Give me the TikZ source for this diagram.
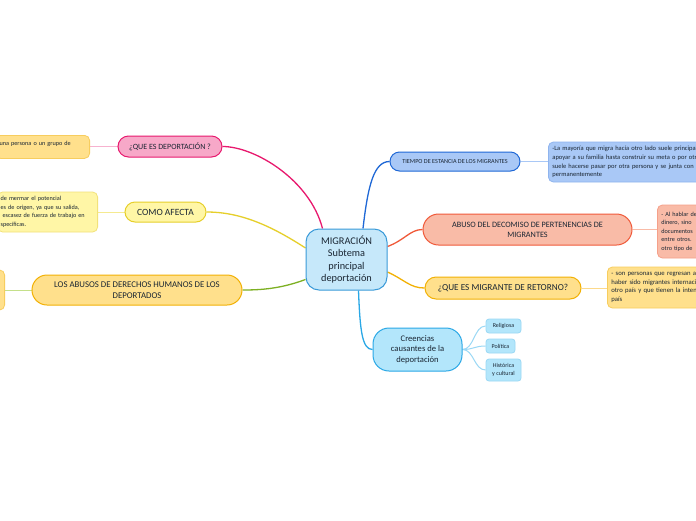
\documentclass[tikz,border=0pt]{standalone}
\usepackage{fontspec}
\setmainfont{Carlito}
\usetikzlibrary{backgrounds}
\definecolor{txt}{HTML}{1A2633}
\definecolor{pinkF}{HTML}{F7A8C8}\definecolor{pinkD}{HTML}{E8196E}\definecolor{pinkL}{HTML}{F7B2CF}
\definecolor{yelF}{HTML}{FFF6A6}\definecolor{yelD}{HTML}{E6CF2A}\definecolor{yelL}{HTML}{F5EA90}\definecolor{yelB}{HTML}{F2E27A}
\definecolor{orF}{HTML}{FFE08C}\definecolor{orD}{HTML}{F2B105}\definecolor{orL}{HTML}{FCD98A}\definecolor{orB}{HTML}{F7CD5E}
\definecolor{grD}{HTML}{7DB023}\definecolor{grL}{HTML}{C4E08A}
\definecolor{blF}{HTML}{A9C8F6}\definecolor{blD}{HTML}{1F68D6}\definecolor{blB}{HTML}{8FB4EE}
\definecolor{saF}{HTML}{F9BBA7}\definecolor{saD}{HTML}{F05A3A}\definecolor{saB}{HTML}{F5A08A}
\definecolor{cyF}{HTML}{B3E6FB}\definecolor{cyD}{HTML}{2AA8E6}\definecolor{cyL}{HTML}{9AD8F5}
\definecolor{ceF}{HTML}{C6E8FA}\definecolor{ceD}{HTML}{3A9AD8}
\tikzset{
  topic/.style={draw, line width=1pt, align=center, inner sep=0pt, text=txt},
  note/.style={draw, line width=0.8pt, rounded corners=5pt, align=left, inner xsep=4pt, inner ysep=0pt, text=txt,
     font=\fontsize{6.2}{8.5}\selectfont},
  mainline/.style={line width=1.3pt},
  subline/.style={line width=1pt},
}
\begin{document}
\begin{tikzpicture}[x=1pt,y=-1pt]
\useasboundingbox (0,0) rectangle (696,520);
\clip (0,0) rectangle (696,520);
% central
\node[topic, fill=ceF, draw=ceD, rounded corners=13pt, minimum width=81pt, minimum height=61pt,
  font=\fontsize{10.3}{12.5}\selectfont] (c) at (346.5,259.5) {MIGRACIÓN\\Subtema\\principal\\deportación};
% left side
\node[topic, fill=pinkF, draw=pinkD, rounded corners=10.5pt, minimum width=104pt, minimum height=21pt,
  font=\fontsize{8}{9}\selectfont] (dep) at (170,146.5) {¿QUE ES DEPORTACIÓN ?};
\node[note, fill=orF, draw=orB, anchor=north east, text width=86pt, minimum height=23pt, text height=4.5pt, text depth=7pt, inner ysep=5.75pt] (depbox) at (90,135) {una persona o un grupo de};
\node[topic, fill=yelF, draw=yelD, rounded corners=10pt, minimum width=81pt, minimum height=20pt,
  font=\fontsize{9.5}{10}\selectfont] (af) at (165.5,212) {COMO AFECTA};
\node[note, fill=yelF, draw=yelB, anchor=east, text width=94pt, minimum height=40pt, inner xsep=3pt] (afbox) at (98,212) {de mermar el potencial\\es de origen, ya que su salida,\\\hspace{2pt}escasez de fuerza de trabajo en\\specíficas.};
\node[topic, fill=orF, draw=orD, rounded corners=15pt, minimum width=210pt, minimum height=30pt,
  font=\fontsize{8.8}{10.5}\selectfont] (ab) at (137,290) {LOS ABUSOS DE DERECHOS HUMANOS DE LOS\\DEPORTADOS};
\node[note, fill=orF, draw=orB, anchor=east, minimum width=30pt, minimum height=40pt] (abbox) at (5,290) {};
% right side
\node[topic, fill=blF, draw=blD, rounded corners=9.5pt, minimum width=130pt, minimum height=19pt,
  font=\fontsize{6.2}{7}\selectfont] (ti) at (455,161.5) {TIEMPO DE ESTANCIA DE LOS MIGRANTES};
\node[note, fill=blF, draw=blB, anchor=west, text width=260pt, minimum height=40pt,
  font=\fontsize{6.5}{8.6}\selectfont] (tibox) at (548,162)
  {-La mayoría que migra hacía otro lado suele principalmente\\apoyar a su familia hasta construir su meta o por otro\\suele hacerse pasar por otra persona y se junta con\\permanentemente};
\node[topic, fill=saF, draw=saD, rounded corners=15.5pt, minimum width=209pt, minimum height=31pt,
  font=\fontsize{8.2}{10}\selectfont] (de) at (527.5,229.5) {ABUSO DEL DECOMISO DE PERTENENCIAS DE\\MIGRANTES};
\node[note, fill=saF, draw=saB, anchor=west, text width=80pt, minimum height=53pt] (debox) at (657,231.5)
  {- Al hablar de\\dinero, sino\\documentos\\entre otros.\\otro tipo de};
\node[topic, fill=orF, draw=orD, rounded corners=11pt, minimum width=156pt, minimum height=22pt,
  font=\fontsize{9.2}{10}\selectfont] (re) at (503,288) {¿QUE ES MIGRANTE DE RETORNO?};
\node[note, fill=orF, draw=orB, anchor=west, text width=140pt, minimum height=41pt,
  font=\fontsize{6.7}{8.5}\selectfont] (rebox) at (607,287.5)
  {- son personas que regresan a\\haber sido migrantes internacionales\\otro país y que tienen la intención\\país};
\node[topic, fill=cyF, draw=cyD, rounded corners=16pt, minimum width=89pt, minimum height=43pt,
  font=\fontsize{8.6}{10.5}\selectfont] (cr) at (417.5,349.5) {Creencias\\causantes de la\\deportación};
\node[topic, fill=cyF, draw=cyL, line width=0.8pt, rounded corners=3pt, minimum width=35pt, minimum height=14pt,
  font=\fontsize{6}{7.5}\selectfont] (rel) at (503.5,326) {Religiosa};
\node[topic, fill=cyF, draw=cyL, line width=0.8pt, rounded corners=3pt, minimum width=29pt, minimum height=14pt,
  font=\fontsize{6}{7.5}\selectfont] (pol) at (500.5,346) {Política};
\node[topic, fill=cyF, draw=cyL, line width=0.8pt, rounded corners=3pt, minimum width=35pt, minimum height=22pt,
  font=\fontsize{6}{8}\selectfont] (his) at (503.5,370) {Histórica\\y cultural};
% connectors
\begin{scope}[on background layer]
\fill[white] (0,0) rectangle (696,520);
\draw[mainline, pinkD] ([xshift=-24pt]c.north) .. controls (310,180) and (255,146.5) .. (dep.east);
\draw[mainline, yelD] ([yshift=11.5pt]c.west) .. controls (270,225) and (240,212) .. (af.east);
\draw[mainline, grD] ([yshift=-20pt]c.west) .. controls (280,289) and (260,290) .. (ab.east);
\draw[mainline, blD] ([xshift=16.5pt]c.north) .. controls (368,185) and (374,161.5) .. (ti.west);
\draw[mainline, saD] ([yshift=13pt]c.east) .. controls (405,240) and (410,229.5) .. (de.west);
\draw[mainline, orD] ([yshift=-12.5pt]c.east) .. controls (405,280) and (410,288) .. (re.west);
\draw[mainline, cyD] ([xshift=12pt]c.south) .. controls (360,330) and (362,349.5) .. (cr.west);
\draw[subline, pinkL] (dep.west) -- (dep.west -| depbox.east);
\draw[subline, yelL] (af.west) -- (af.west -| afbox.east);
\draw[subline, grL] (ab.west) -- (ab.west -| abbox.east);
\draw[subline, blF] (ti.east) -- (ti.east -| tibox.west);
\draw[subline, saF] (de.east) -- (de.east -| debox.west);
\draw[subline, orL] (re.east) -- (re.east -| rebox.west);
\draw[subline, cyL] (cr.east) .. controls (474,349.5) and (474,326) .. (rel.west);
\draw[subline, cyL] (cr.east) .. controls (474,349.5) and (474,346) .. (pol.west);
\draw[subline, cyL] (cr.east) .. controls (474,349.5) and (474,370) .. (his.west);
\end{scope}
\end{tikzpicture}
\end{document}
